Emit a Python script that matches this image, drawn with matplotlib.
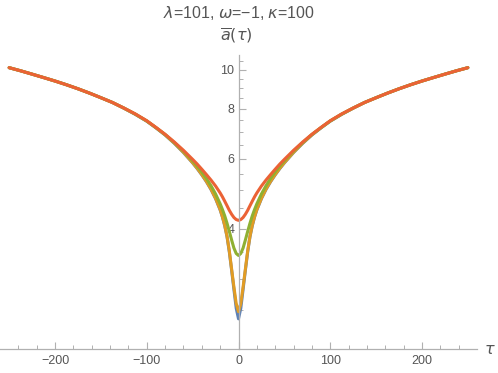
import matplotlib
matplotlib.use("Agg")
import matplotlib.pyplot as plt
from matplotlib.ticker import FixedLocator, NullFormatter

# values read for tau >= 0 (the curves are symmetric in tau)
tau_half = [0, 2.5, 5, 7.5, 10, 12.5, 15, 17.5, 20, 25, 30, 35, 40, 45, 50, 60, 70, 80,
            90, 100, 112.5, 125, 137.5, 150, 162.5, 175, 187.5, 200, 212.5, 225, 237.5, 250]

red_half = [4.20, 4.22, 4.27, 4.35, 4.45, 4.57, 4.69, 4.81, 4.92, 5.12, 5.30, 5.47, 5.64,
            5.81, 5.97, 6.29, 6.60, 6.90, 7.18, 7.46, 7.76, 8.03, 8.29, 8.52, 8.75, 8.97,
            9.18, 9.38, 9.57, 9.76, 9.95, 10.13]
green_half = [3.43, 3.47, 3.58, 3.75, 3.94, 4.13, 4.31, 4.47, 4.62, 4.89, 5.13, 5.35, 5.55,
              5.74, 5.92, 6.26, 6.58, 6.89, 7.17, 7.45, 7.75, 8.03, 8.29, 8.52, 8.75, 8.97,
              9.18, 9.38, 9.57, 9.76, 9.95, 10.13]
orange_half = [2.48, 2.60, 2.86, 3.17, 3.52, 3.83, 4.08, 4.29, 4.47, 4.77, 5.03, 5.26, 5.47,
               5.67, 5.86, 6.22, 6.56, 6.88, 7.17, 7.45, 7.75, 8.02, 8.29, 8.52, 8.75, 8.97,
               9.18, 9.38, 9.57, 9.76, 9.95, 10.13]
blue_half = [2.38, 2.53, 2.82, 3.15, 3.50, 3.82, 4.07, 4.28, 4.46, 4.76, 5.02, 5.25, 5.46,
             5.66, 5.85, 6.21, 6.55, 6.87, 7.16, 7.44, 7.74, 8.02, 8.29, 8.52, 8.75, 8.97,
             9.18, 9.38, 9.57, 9.76, 9.95, 10.13]

x_major = [-200, -100, 0, 100, 200]
x_labels = ["\u2212200", "\u2212100", "0", "100", "200"]
x_minor = [-240, -220, -180, -160, -140, -120, -80, -60, -40, -20,
           20, 40, 60, 80, 120, 140, 160, 180, 220, 240]
y_major = [4, 6, 8, 10]
y_minor = [2.5, 3, 3.5, 4.5, 5, 5.5, 6.5, 7, 7.5, 8.5, 9, 9.5, 10.5]

colors = ["#5E81B5", "#E19C24", "#8FB032", "#EB6235"]


def mirror(half):
    return list(reversed(half[1:])) + list(half)


tau = [-t for t in reversed(tau_half[1:])] + list(tau_half)
series = [mirror(blue_half), mirror(orange_half), mirror(green_half), mirror(red_half)]

plt.rcParams['font.family'] = ['Liberation Sans', 'DejaVu Sans']
plt.rcParams['mathtext.fontset'] = 'dejavusans'

fig = plt.figure(figsize=(4.98, 3.73), dpi=100)
ax = fig.add_axes([0.0, 24 / 373, 477 / 498, 294 / 373])

for y, c in zip(series, colors):
    ax.plot(tau, y, color=c, lw=2.2, solid_capstyle='round', solid_joinstyle='round',
            clip_on=False)

ax.set_yscale('log')
ax.set_xlim(-260, 260)
ax.set_ylim(2, 10.9)

axis_col = '#b0b0b0'
for s in ['top', 'right']:
    ax.spines[s].set_visible(False)
ax.spines['left'].set_position(('data', 0))
ax.spines['bottom'].set_position(('data', 2))
for s in ['left', 'bottom']:
    ax.spines[s].set_color(axis_col)
    ax.spines[s].set_linewidth(0.9)

ax.xaxis.set_major_locator(FixedLocator(x_major))
ax.xaxis.set_minor_locator(FixedLocator(x_minor))
ax.set_xticklabels(x_labels)
ax.yaxis.set_major_locator(FixedLocator(y_major))
ax.yaxis.set_minor_locator(FixedLocator(y_minor))
ax.yaxis.set_minor_formatter(NullFormatter())
ax.set_yticklabels([str(v) for v in y_major])

ax.tick_params(axis='both', which='major', direction='in', length=5, width=0.8,
               color=axis_col, labelcolor='#555555', labelsize=9)
ax.tick_params(axis='both', which='minor', direction='in', length=3, width=0.7,
               color=axis_col)
ax.tick_params(axis='x', pad=4)
ax.tick_params(axis='y', pad=3)

fig.text(238.5 / 498, 1 - 13 / 373, "$\\lambda$=101, $\\omega$=\u22121, $\\kappa$=100",
         ha='center', va='center', fontsize=11.5, color='#555555')
fig.text(236 / 498, 1 - 36 / 373, r"$\overline{a}(\tau)$", ha='center', va='center',
         fontsize=11.5, color='#555555')
fig.text(490 / 498, 1 - 350 / 373, r"$\tau$", ha='center', va='center',
         fontsize=11.5, color='#555555')

fig.savefig("out.png", dpi=100)
